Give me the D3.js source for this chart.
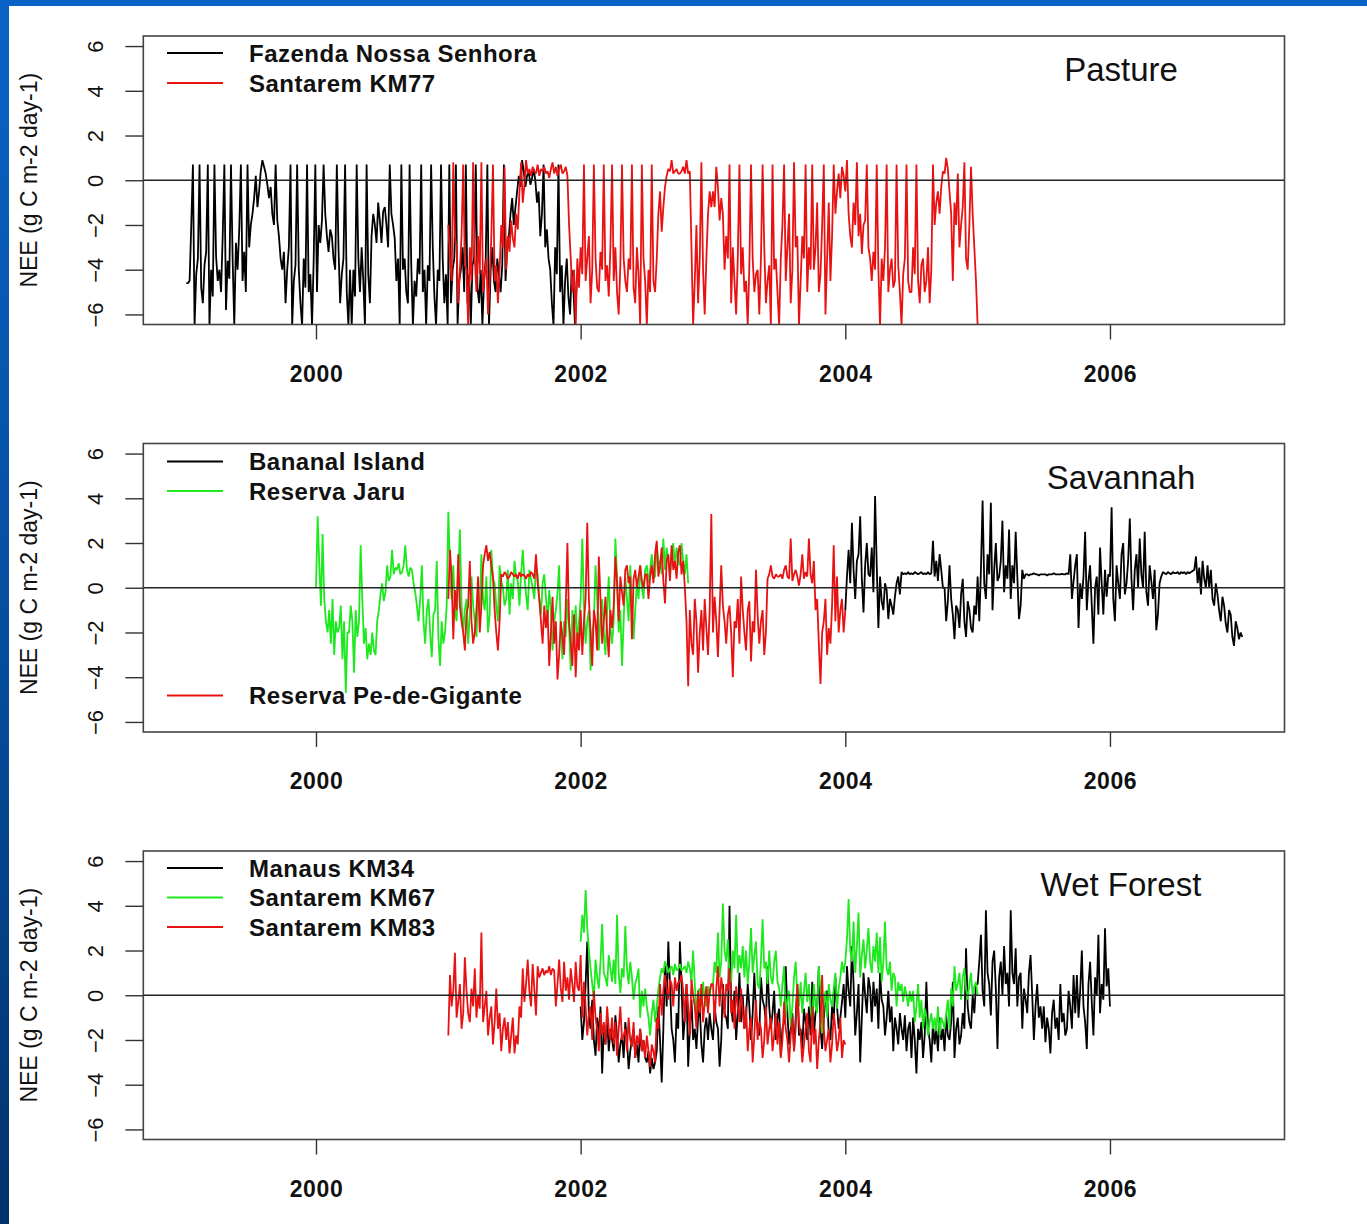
<!DOCTYPE html>
<html>
<head>
<meta charset="utf-8">
<script src="https://cdn.jsdelivr.net/npm/d3@7"></script>
<style>
  body { margin: 0; background: #fff; }
  svg { display: block; }
  text { font-family: "Liberation Sans", Arial, sans-serif; fill: #111; }
</style>
</head>
<body>
<div id="chart"></div>
<script>
// daily NEE, one value every 1/80 year from each start date
var stepYears = 0.0125;
var yearTicks = [2000, 2002, 2004, 2006];
var neeTicks = [-6, -4, -2, 0, 2, 4, 6];

// Pasture
var fazendaStart = 1999.02;
var fazendaNEE = [
  -4.6,-4.6,-4.5,-2.0,0.7,-6.5,-4.2,-3.5,0.7,-4.8,-5.5,-3.8,-3.2,0.7,-6.5,-4.0,-5.2,0.7,-3.4,-4.5,
  -4.0,-5.0,-2.5,0.7,-5.8,-3.6,-4.4,0.7,-3.5,-6.5,-2.8,-4.0,-2.2,0.7,-4.5,-3.2,-5.0,0.7,-3.0,-2.0,
  -1.5,-0.8,0.2,-1.2,-0.5,0.4,0.9,0.6,0.3,-0.2,-0.8,-0.3,-1.5,-2.0,0.7,-1.8,-2.5,-3.5,-4.0,-3.2,
  -5.5,-4.0,-3.0,0.7,-6.5,-4.5,-3.8,0.7,-4.0,-5.5,-6.5,-3.5,-4.8,0.7,-5.0,-4.2,-6.5,-3.6,0.7,-5.0,
  -2.0,-2.8,-1.8,0.7,-1.5,-2.5,-3.2,-2.2,-2.5,-3.5,-4.0,0.7,-3.0,-5.5,-4.2,-3.5,0.7,-5.0,-6.5,-4.0,
  -6.5,-4.0,-5.2,0.7,-3.5,-5.0,-3.0,-4.5,-6.5,0.7,-4.2,-5.5,-2.5,-1.5,-2.0,-2.8,-1.0,-1.8,-2.8,-1.4,
  -1.2,-2.0,-3.0,0.7,-1.5,-2.0,-2.6,-4.5,-3.5,-6.5,0.7,-4.0,-3.5,-5.0,-5.5,0.7,-3.8,-6.5,-4.5,-5.2,
  -3.5,-4.2,0.7,-5.0,-4.0,-6.5,-3.8,-4.5,0.7,-3.0,-5.2,-6.5,-4.0,-4.5,0.7,-3.5,-5.5,-4.2,-6.5,0.7,
  -5.5,-4.0,-3.5,0.7,-6.5,-4.5,-4.0,-3.0,-5.0,0.7,-5.5,-4.2,-6.5,-3.8,-3.5,0.7,-4.8,-5.5,-4.0,-6.5,
  -4.5,-3.5,0.7,-6.5,-4.0,-3.0,-4.5,-5.0,-3.5,-4.2,-5.0,-3.8,0.7,-4.5,-3.0,-2.5,-1.5,-0.8,-2.0,-1.2,
  -0.5,0.2,-0.3,0.9,0.4,-0.3,0.2,0.4,-0.2,0.1,0.5,0.0,-1.0,-0.5,-2.5,-1.5,0.7,-3.0,-2.2,-3.5,
  -4.0,-5.5,-6.5,-3.0,-4.2,0.7,-5.0,-3.8,-6.5,-4.5,-3.5,-5.2,-6.0,-4.0,-4.8,-6.5,-4.5
];
var km77Start = 2001.0;
var km77NEE = [
  -2.0,-3.5,-4.5,0.8,-2.5,-3.0,-5.5,-4.0,-2.5,0.7,-3.8,-4.0,-6.5,-3.0,-4.5,0.8,-3.5,-5.0,-2.5,-4.2,
  0.8,-5.0,-4.2,-3.5,-6.0,-4.5,-2.5,0.7,-4.5,-3.8,-5.5,-4.0,-2.0,-3.0,0.6,-4.0,-2.5,-3.2,-1.8,-2.6,
  -3.0,-1.5,-2.2,-0.5,0.8,-1.0,-0.2,0.9,0.3,0.5,0.2,0.6,0.4,0.3,0.7,0.2,0.5,0.4,0.6,0.3,
  0.4,0.1,0.5,0.8,0.3,0.6,0.2,0.5,0.7,0.3,0.4,0.6,0.2,-2.0,-3.5,-5.0,-4.0,-6.5,-3.5,-4.8,
  -3.0,-4.2,0.7,-4.5,-3.5,-2.5,-5.5,-4.0,0.7,-3.5,-4.8,-5.0,-3.2,-4.0,0.7,-4.5,-3.8,-5.2,-3.0,0.7,
  -4.5,-3.0,-5.0,-6.0,-3.8,0.7,-3.5,-4.5,-5.0,-3.5,-4.0,0.7,-4.8,-5.5,-3.0,-4.2,-6.5,0.7,-3.5,-4.5,
  -6.5,-4.0,-5.0,0.7,-4.5,-5.0,-3.5,-1.5,-0.5,-2.3,-1.2,-0.3,0.2,0.5,0.4,0.9,0.3,0.4,0.5,0.3,
  0.3,0.4,0.6,0.3,0.9,0.3,0.4,-3.0,-6.5,-4.5,-2.0,-5.5,-3.5,0.8,-4.0,-6.0,-3.5,-1.5,-0.5,-1.2,
  -0.5,-1.2,0.6,-0.3,-1.8,-0.8,-1.5,-4.0,-2.5,-3.5,0.7,-5.5,-3.0,-4.5,-6.0,-3.5,0.7,-4.2,-3.0,-5.0,
  -4.5,-6.5,-3.8,0.7,-3.5,-5.0,-4.2,-4.0,-6.0,-3.5,0.7,-3.0,-5.5,-4.5,-3.8,-6.5,0.7,-4.0,-3.5,-5.0,
  -6.5,-3.5,-2.0,0.7,-4.5,-3.0,-1.5,-5.5,-4.0,0.8,-3.0,-2.5,-6.5,-4.5,-2.5,-3.5,0.7,-5.0,-3.0,-4.0,
  0.7,-4.0,-3.0,-1.0,-5.0,-4.2,-2.0,0.7,-6.0,-3.5,-1.0,-4.5,-2.5,0.7,-1.5,-0.5,0.3,-0.8,0.6,0.2,
  -0.5,0.9,-1.5,-2.5,-3.0,-1.0,-2.0,0.8,-2.5,-1.5,-3.3,-2.0,-1.8,0.7,-3.0,-3.5,-4.5,-3.2,-4.0,0.7,
  -4.0,-6.5,-3.5,-4.5,-3.0,0.7,-5.0,-4.0,-3.5,-4.8,-4.5,0.7,-3.8,-5.0,-6.5,-4.2,-3.5,0.7,-4.5,-5.0,
  -5.0,-3.0,-4.2,0.7,-4.5,-5.5,-3.8,-3.5,-5.0,-4.5,-3.0,-5.5,-4.0,0.7,-2.0,-1.0,-0.5,-1.5,-0.3,0.4,
  0.3,1.0,0.5,-0.5,-1.5,-4.5,-1.0,-2.0,0.3,-3.0,-2.0,-1.2,0.8,-3.5,-4.0,-2.0,0.6,-1.5,-3.0,-4.5,
  -6.5
];

// Savannah
var bananalStart = 2004.0;
var bananalNEE = [
  -1.0,0.5,1.7,0.2,2.9,0.8,-0.5,1.2,1.5,3.2,0.4,-1.1,1.0,2.0,0.6,0.5,1.8,-0.2,4.1,1.0,
  -1.8,0.5,-0.6,-1.0,0.2,-0.1,-1.4,-0.5,-0.8,-1.2,-0.4,0.2,0.5,-0.3,0.7,0.6,0.65,0.6,0.7,0.6,
  0.65,0.6,0.7,0.65,0.6,0.65,0.7,0.6,0.65,0.6,0.7,0.6,0.65,2.1,0.5,1.2,0.3,1.5,0.8,0.0,
  0.0,-1.5,-0.6,1.0,-0.5,-1.2,-2.3,-0.8,-1.0,-1.8,-0.3,0.4,-1.5,-2.2,-0.6,-1.0,-1.8,-2.0,-0.8,-1.2,
  0.5,-1.5,0.8,3.9,0.2,-0.5,1.5,0.6,3.8,-1.0,0.8,2.0,0.3,0.5,1.2,3.0,-0.2,1.0,0.4,2.6,
  -0.5,1.0,0.2,2.5,0.5,-1.4,-0.8,0.8,0.4,0.6,0.6,0.55,0.6,0.6,0.65,0.6,0.6,0.55,0.6,0.6,
  0.6,0.6,0.55,0.6,0.6,0.6,0.65,0.6,0.6,0.6,0.6,0.62,0.6,0.6,0.65,0.6,1.5,-0.5,0.3,1.0,
  1.5,-1.8,0.2,-0.5,0.5,2.5,-1.0,0.3,1.0,-0.8,-2.5,0.0,0.5,-1.2,1.8,0.2,-1.2,0.8,-0.4,0.6,
  0.5,3.6,-0.5,-1.5,1.0,0.2,-0.5,1.5,2.0,-0.3,0.2,1.2,3.1,0.4,-1.0,0.8,1.5,0.0,2.2,0.6,
  0.0,2.5,-0.2,-0.8,1.0,0.3,-0.5,0.8,-1.9,-1.2,0.2,0.5,0.7,0.65,0.6,0.7,0.65,0.6,0.7,0.65,
  0.65,0.7,0.6,0.7,0.65,0.7,0.6,0.7,0.65,0.7,0.75,0.8,1.4,0.2,0.9,-0.3,1.2,0.4,0.0,1.0,
  0.0,0.8,-0.5,-0.8,0.2,-0.3,-1.0,-1.5,-0.4,-0.8,-1.6,-2.0,-1.0,-1.2,-2.2,-2.6,-1.5,-1.8,-2.3,-2.0,
  -2.2
];
var jaruStart = 2000.0;
var jaruNEE = [
  0.0,3.2,1.0,-0.8,2.4,-0.5,-1.5,-2.0,-1.0,-2.5,-0.5,-3.0,-1.5,-2.0,-1.8,-0.8,-3.2,-1.5,-4.7,-2.0,
  -2.0,-0.8,-1.5,-3.8,-1.0,-2.2,-1.5,1.9,-0.5,-2.5,-1.8,-3.2,-2.5,-3.0,-2.0,-2.8,-3.0,-1.5,-1.0,-0.3,
  0.2,-0.6,-0.2,1.0,0.3,0.5,1.7,0.6,0.9,0.8,1.1,0.6,0.7,1.0,1.9,0.8,0.5,0.9,0.8,0.2,
  -0.2,-0.8,-1.5,-0.5,1.0,-1.5,-2.5,-1.0,-0.5,-2.0,-3.1,-1.2,-1.0,1.2,-2.2,-3.5,-1.5,-2.5,-2.0,-0.8,
  3.4,1.0,-0.5,1.0,-1.0,-1.5,0.5,2.6,-0.8,-2.0,-1.0,-0.5,-2.5,-1.2,0.5,-0.8,-1.5,-2.2,-0.5,-1.0,
  1.5,-0.5,-1.0,0.5,-2.0,-1.2,1.7,0.4,0.2,-0.8,-1.5,1.0,0.3,0.0,-0.8,-0.5,0.8,-1.2,0.2,-0.5,
  1.2,0.5,0.3,-0.8,0.6,1.7,0.5,-0.3,-1.0,0.8,0.4,0.0,-0.5,1.0,0.6,-0.5,-1.2,0.2,0.6,-0.4,
  -1.5,-0.1,-1.0,-2.8,-1.5,-1.0,-0.2,1.0,-2.0,-3.2,-1.5,-2.2,-0.5,-1.8,-3.7,-1.0,-2.0,-0.8,-2.5,-1.5,
  -0.5,2.2,-0.8,-2.5,-1.5,-1.0,-3.7,-2.0,-1.5,1.0,-0.5,-2.8,-1.2,-0.5,-2.0,-3.0,-1.0,0.5,-1.8,-2.5,
  -1.5,2.2,0.5,-2.0,-1.0,-3.5,-1.5,0.5,-0.5,-1.5,1.0,-0.8,-2.3,-1.0,0.2,-0.5,1.0,0.0,-0.5,0.8,
  1.0,0.2,0.8,1.5,0.4,0.5,2.0,1.0,1.2,0.6,2.2,0.8,1.8,1.2,0.5,1.5,2.0,0.9,1.8,1.2,
  1.0,2.0,1.2,0.6,1.5,0.2
];
var giganteStart = 2001.0;
var giganteNEE = [
  -0.5,1.7,0.5,-2.3,-0.1,-1.0,1.5,-0.8,-1.5,-2.0,-2.8,-1.2,-0.8,1.2,-1.5,-2.5,-2.0,-1.0,0.5,-2.0,
  -0.8,1.0,1.5,1.9,1.2,1.6,1.0,0.5,-1.0,-2.0,-2.8,-1.5,0.6,0.5,0.7,0.6,0.4,0.5,0.7,0.6,
  0.5,0.6,0.4,0.7,0.5,0.6,0.55,0.4,0.6,0.5,0.7,0.6,0.4,1.5,0.2,-0.5,-1.5,-2.5,-0.8,-1.8,
  -1.0,-3.5,-2.0,-0.4,-2.5,-1.5,-4.1,-3.0,-1.5,-2.2,-3.0,-0.8,2.0,-1.5,-2.5,-3.5,-1.2,-4.0,-2.0,-2.8,
  -1.0,-3.0,-1.5,-0.5,2.9,-0.5,-2.0,-3.5,-1.0,-1.5,-2.8,1.4,-0.5,-2.5,-1.5,-0.4,-2.0,-3.1,-1.0,-1.8,
  -0.8,1.4,0.2,-1.5,0.5,-0.2,-0.8,0.8,1.0,0.2,0.5,-2.3,0.4,0.8,0.0,0.5,1.0,0.3,0.0,0.6,
  0.6,-0.5,0.5,1.0,0.2,1.5,2.1,0.5,1.0,1.8,0.3,-0.7,1.2,1.5,0.3,1.9,0.8,1.2,0.4,1.6,
  1.9,0.6,1.2,0.0,-1.5,-4.4,-1.0,-2.5,-3.0,-0.5,-1.5,-3.8,-2.0,-1.0,-2.8,-0.5,-1.8,-3.0,-1.0,3.3,
  -2.0,-0.4,-1.5,-3.1,-1.0,1.0,-0.8,-1.5,-2.5,-1.2,-0.8,-2.0,-4.0,-1.5,-1.8,-0.5,-2.5,0.5,-1.0,-2.0,
  -2.8,-1.0,-0.6,-3.3,-1.5,-2.0,0.8,-1.2,-2.5,-1.5,-1.0,-3.0,-2.0,0.4,0.6,1.0,0.5,0.4,0.6,0.5,
  0.5,0.6,0.4,0.8,1.0,0.5,0.4,2.2,0.3,0.6,0.8,0.5,0.1,0.6,1.5,0.4,0.7,0.5,2.2,0.6,
  0.2,1.2,-1.0,-0.5,-2.5,-4.3,-2.0,-1.5,-0.5,-3.0,-1.8,-2.5,-0.8,1.9,-1.5,0.5,-2.0,-1.0,-0.5,-2.0,
  -1.0
];

// Wet Forest
var manausStart = 2002.0;
var manausNEE = [
  -0.5,-2.0,-1.2,0.5,2.4,-1.0,-1.5,-0.2,-2.0,-2.7,-1.0,-1.8,-0.5,-3.5,-1.5,-2.2,-1.0,-2.5,-1.5,-2.0,
  -2.5,-0.9,-1.8,-3.0,-2.2,-1.8,-2.8,-1.2,-2.0,-3.3,-2.5,-2.0,-1.5,-2.8,-2.2,-3.0,-1.5,-2.5,-2.0,-2.8,
  -3.0,-2.5,-3.5,-2.8,-3.3,-3.0,-2.5,-0.5,-2.0,-3.9,-1.5,1.5,-0.5,2.4,0.5,-1.5,-2.0,-3.0,-0.8,-1.5,
  2.4,0.5,-2.0,-1.0,0.5,-3.2,-1.5,-0.2,-2.0,-1.5,-2.4,-1.0,-0.5,-2.2,-3.0,-1.5,-1.0,-2.0,-0.8,-1.5,
  -2.0,-0.5,-1.2,-1.5,-3.2,-2.0,0.5,-0.8,-1.0,-1.5,4.0,-0.5,-1.2,0.2,-2.0,-0.8,1.0,-1.2,0.0,-1.5,
  -1.0,0.5,-0.5,-2.0,-0.8,1.0,-0.8,-1.5,-1.8,0.8,-0.2,-0.5,-1.2,1.3,-0.5,-1.5,-0.8,0.2,-2.0,-1.0,
  -0.6,-2.7,-1.5,-1.2,1.3,-0.8,-2.2,-1.5,-0.8,-2.5,-1.0,0.5,-1.8,-1.5,-2.4,-0.6,-1.2,-2.0,-0.5,-1.8,
  0.6,-1.8,-0.8,-0.5,1.3,-1.5,-2.4,-1.0,-0.2,0.2,-1.8,-2.0,-0.5,-1.2,0.8,-0.5,-1.5,-1.0,-0.3,0.5,
  -1.0,1.3,0.2,-0.5,2.2,0.5,-1.8,-0.8,0.5,-3.0,-1.0,1.0,0.0,-0.8,0.8,0.3,-1.2,0.6,-0.5,0.3,
  -1.5,1.0,-0.2,-0.5,-1.8,-1.0,0.2,-1.2,-0.5,-2.5,-1.0,-1.5,-2.2,-0.8,-1.5,-2.0,-0.9,-2.5,-1.5,-1.2,
  -2.8,-1.0,-2.0,-3.5,-1.5,-2.0,-1.2,-2.8,-1.8,0.6,-1.5,-2.0,-3.0,-1.2,-2.2,-1.5,-2.5,-1.0,-2.0,-1.5,
  -2.5,-0.9,-1.8,-2.0,-1.2,0.6,-2.8,-1.5,-1.0,-2.2,-1.8,-0.8,-1.5,2.1,-0.5,-1.2,-1.5,0.0,-0.8,0.5,
  0.5,1.5,2.7,0.2,-0.5,3.8,1.0,0.5,-0.9,1.5,2.0,0.3,-2.4,0.8,1.5,0.0,2.2,0.5,1.0,-0.5,
  3.8,1.0,0.5,2.1,-0.5,0.8,1.0,-1.5,0.3,-0.2,-0.8,1.0,1.8,0.0,-2.0,-0.5,0.5,-1.0,-0.5,-1.5,
  -0.5,-2.1,-1.0,-1.5,-2.6,-0.8,-0.2,-1.5,-1.0,-2.0,0.5,-1.2,-0.8,-1.8,-1.5,0.2,-0.5,-1.5,0.9,-0.8,
  0.9,-1.0,0.2,2.0,-0.5,-1.2,-2.4,0.5,1.5,-0.3,-1.8,0.8,0.0,2.7,-0.8,0.5,-0.2,3.0,0.4,1.2,
  -0.5
];
var km67Start = 2002.0;
var km67NEE = [
  2.4,3.6,2.8,4.7,3.0,2.0,1.2,0.5,-0.2,1.6,0.8,0.3,1.5,3.2,1.0,0.8,0.4,1.8,1.2,0.6,
  1.6,0.5,3.6,1.0,0.1,1.2,0.8,3.1,1.2,0.5,1.5,0.8,-0.2,0.5,0.8,1.2,-1.0,0.2,-0.5,0.3,
  -0.5,-1.0,-1.8,-0.8,-0.2,-1.2,-0.5,0.3,0.8,1.2,1.0,1.5,1.3,1.0,1.2,1.3,0.9,1.4,1.1,1.2,
  1.4,1.1,1.2,1.3,1.0,1.5,1.2,0.6,2.0,0.5,-0.9,0.2,0.3,-0.5,0.6,-0.2,-0.5,0.4,0.0,0.5,
  0.5,1.5,1.0,2.8,0.8,1.5,4.1,2.0,1.5,2.5,0.8,0.6,2.0,1.2,3.6,1.0,1.8,1.2,2.2,0.8,
  2.0,0.5,1.5,3.0,1.0,1.8,2.4,0.5,0.3,1.5,3.4,1.2,1.5,0.5,2.0,0.8,0.5,1.5,2.0,0.6,
  0.3,-0.5,0.5,1.3,-1.0,-0.2,0.2,-1.4,-0.5,0.8,1.5,0.0,-0.5,0.6,-0.8,0.2,1.0,-0.3,0.5,-0.6,
  -1.2,0.5,-0.5,-0.8,1.3,0.2,-1.7,-0.5,0.2,-1.0,0.5,-0.2,-0.5,0.3,1.0,-0.6,0.3,0.8,1.5,1.0,
  1.5,2.5,4.3,2.0,1.5,3.3,1.0,2.2,3.7,0.8,1.8,2.5,1.2,2.0,3.0,1.5,1.0,2.2,1.5,2.8,
  1.0,2.6,0.6,1.5,3.3,1.2,0.9,1.5,0.2,1.0,0.8,-0.5,0.6,0.2,0.5,-0.3,0.4,0.0,-0.5,0.2,
  -0.3,0.2,-1.2,-0.5,0.5,-1.0,-0.2,-1.5,-0.6,-1.0,-1.8,-1.2,-0.8,-1.5,-1.0,-1.6,-0.5,-1.8,-1.0,-1.2,
  -1.5,-0.8,-0.2,-1.5,0.3,-0.5,1.3,0.2,0.5,1.0,-0.2,0.8,1.2,0.3,-0.2,0.5,1.0,0.0,0.4,0.6,
  0.0
];
var km83Start = 2001.0;
var km83NEE = [
  -1.8,0.9,-0.5,0.2,1.9,-1.0,-0.3,0.5,-1.5,-0.8,1.7,0.2,-0.8,-1.2,0.3,-0.5,1.2,-1.0,0.0,-0.6,
  2.8,-1.2,-0.5,0.2,-1.8,-1.0,-0.5,-2.2,-1.2,0.3,-1.5,-0.8,-2.5,-1.5,-1.0,-2.0,-1.2,-2.6,-1.8,-1.0,
  -2.6,-1.8,-2.2,-0.5,-1.0,1.2,-0.3,0.5,1.6,0.2,-0.5,1.4,0.3,-0.9,1.3,0.8,1.0,1.2,0.9,1.1,
  1.0,1.3,0.9,1.2,1.1,-0.5,0.5,1.6,0.3,-0.3,1.5,0.2,0.8,-0.2,1.2,0.5,-0.3,1.5,0.4,0.2,
  1.8,-1.0,0.6,-0.5,-1.8,-0.8,-0.5,-2.0,0.2,-1.0,-1.5,-2.5,-0.8,-1.8,-1.2,-2.2,-0.5,-1.5,-2.0,-1.0,
  -2.2,-1.2,-2.7,-1.5,-0.5,-2.0,-1.8,-1.5,-2.5,-1.0,-2.0,-2.3,-1.2,-2.8,-1.8,-2.2,-1.5,-2.5,-2.0,-2.8,
  -1.8,-2.5,-3.2,-2.2,-2.5,-3.0,-1.0,-1.5,0.5,-0.9,0.2,0.9,0.3,-0.2,0.7,0.5,-0.5,0.8,0.2,0.6,
  0.6,0.9,0.2,-1.2,0.5,-0.5,-1.8,0.7,0.0,-0.5,-1.5,0.2,-0.8,0.5,-1.2,-0.3,0.4,-0.8,0.2,0.5,
  0.5,-1.2,0.3,1.3,-0.5,0.8,0.2,-1.0,0.5,0.2,1.2,-0.8,-0.2,-1.5,0.4,-0.5,-1.2,0.3,-0.8,-1.5,
  -0.5,-2.5,-1.5,-1.0,-3.0,-1.8,-0.2,-2.0,-1.2,-1.5,-2.8,-2.0,-0.5,-2.2,-1.5,-1.0,-2.5,-1.8,-0.8,-2.2,
  -1.2,-2.8,-2.0,-0.3,-1.5,-2.0,-3.0,-1.8,-1.0,-2.5,-1.5,0.5,-1.2,-1.8,-3.0,-2.2,-1.5,-0.8,-2.5,-3.0,
  -0.5,-2.2,-1.5,-3.3,-2.0,-1.2,0.9,-1.5,-2.5,-2.0,-1.5,-3.0,-2.2,-0.8,-1.5,-2.5,-2.0,-1.0,-2.8,-2.0,
  -2.2
];

var black = "#000000", red = "#e81212", green = "#1ee81e";

// panels, series in drawing order
var panels = [
  { title: "Pasture", top: 36,
    series: [
      { name: "Fazenda Nossa Senhora", color: black, start: fazendaStart, values: fazendaNEE },
      { name: "Santarem KM77", color: red, start: km77Start, values: km77NEE }
    ],
    legendRows: [17, 47] },
  { title: "Savannah", top: 443.5,
    series: [
      { name: "Bananal Island", color: black, start: bananalStart, values: bananalNEE },
      { name: "Reserva Jaru", color: green, start: jaruStart, values: jaruNEE },
      { name: "Reserva Pe-de-Gigante", color: red, start: giganteStart, values: giganteNEE }
    ],
    legendRows: [18, 47.5, 252] },
  { title: "Wet Forest", top: 851,
    series: [
      { name: "Manaus KM34", color: black, start: manausStart, values: manausNEE },
      { name: "Santarem KM67", color: green, start: km67Start, values: km67NEE },
      { name: "Santarem KM83", color: red, start: km83Start, values: km83NEE }
    ],
    legendRows: [17, 46.5, 76] }
];

var W = 1367, H = 1224;
var boxLeft = 143.3, boxRight = 1284.5, boxH = 288.5;

var svg = d3.select("#chart")
  .append("svg")
    .attr("width", W)
    .attr("height", H);

// slide frame: blue strip on top and left
var grad = svg.append("defs").append("linearGradient")
  .attr("id", "slideBlue")
  .attr("x1", 0).attr("y1", 0).attr("x2", 0).attr("y2", 1);
grad.append("stop").attr("offset", "0%").attr("stop-color", "#0a62c6");
grad.append("stop").attr("offset", "55%").attr("stop-color", "#054c9c");
grad.append("stop").attr("offset", "100%").attr("stop-color", "#02326c");

svg.append("rect").attr("x", 0).attr("y", 0).attr("width", W).attr("height", 6).attr("fill", "#0a62c6");
svg.append("rect").attr("x", 0).attr("y", 0).attr("width", 9).attr("height", H).attr("fill", "url(#slideBlue)");

var x = d3.scaleLinear()
  .domain([1998.695, 2007.319])
  .range([boxLeft, boxRight]);

panels.forEach(function(p, pi) {
  var y = d3.scaleLinear()
    .domain([-6.45, 6.45])
    .range([p.top + boxH, p.top]);

  var g = svg.append("g");

  g.append("clipPath")
    .attr("id", "clip" + pi)
  .append("rect")
    .attr("x", boxLeft)
    .attr("y", p.top)
    .attr("width", boxRight - boxLeft)
    .attr("height", boxH);

  var line = d3.line()
    .x(function(d) { return x(d.t); })
    .y(function(d) { return y(d.v); });

  var plot = g.append("g").attr("clip-path", "url(#clip" + pi + ")");

  p.series.forEach(function(s) {
    var pts = s.values.map(function(v, i) { return { t: s.start + i * stepYears, v: v }; });
    plot.append("path")
      .datum(pts)
      .attr("d", line)
      .attr("fill", "none")
      .attr("stroke", s.color)
      .attr("stroke-width", 1.8)
      .attr("stroke-linejoin", "bevel");
  });

  // zero line
  plot.append("line")
    .attr("x1", boxLeft).attr("x2", boxRight)
    .attr("y1", y(0)).attr("y2", y(0))
    .attr("stroke", "#222")
    .attr("stroke-width", 1.3);

  // box
  g.append("rect")
    .attr("x", boxLeft)
    .attr("y", p.top)
    .attr("width", boxRight - boxLeft)
    .attr("height", boxH)
    .attr("fill", "none")
    .attr("stroke", "#444")
    .attr("stroke-width", 1.6);

  // y axis (R style, labels parallel to axis)
  var yAxis = g.append("g")
    .attr("transform", "translate(" + boxLeft + ",0)")
    .call(d3.axisLeft(y).tickValues(neeTicks).tickSize(18).tickPadding(0).tickFormat(d3.format("d")));
  yAxis.select(".domain").remove();
  yAxis.selectAll(".tick line").attr("stroke", "#333").attr("stroke-width", 1.4);
  yAxis.selectAll(".tick text")
    .attr("x", null).attr("dy", null)
    .attr("text-anchor", "middle")
    .attr("dominant-baseline", "central")
    .attr("transform", "translate(-48,0) rotate(-90)")
    .style("font-size", "22px")
    .style("font-family", "Liberation Sans, Arial, sans-serif")
    .attr("fill", "#111");

  // x axis
  var xAxis = g.append("g")
    .attr("transform", "translate(0," + (p.top + boxH) + ")")
    .call(d3.axisBottom(x).tickValues(yearTicks).tickSize(15).tickPadding(0).tickFormat(d3.format("d")));
  xAxis.select(".domain").remove();
  xAxis.selectAll(".tick line").attr("stroke", "#333").attr("stroke-width", 1.4);
  xAxis.selectAll(".tick text")
    .attr("y", 49).attr("dy", null)
    .attr("dominant-baseline", "central")
    .style("font-size", "23px")
    .style("font-weight", "bold")
    .style("letter-spacing", "0.6px")
    .style("font-family", "Liberation Sans, Arial, sans-serif")
    .attr("fill", "#111");

  // axis label
  g.append("text")
    .attr("transform", "translate(29," + (p.top + boxH / 2) + ") rotate(-90)")
    .attr("text-anchor", "middle")
    .attr("dominant-baseline", "central")
    .style("font-size", "23px")
    .text("NEE (g C m-2 day-1)");

  // title
  g.append("text")
    .attr("x", 1121)
    .attr("y", p.top + 45)
    .attr("text-anchor", "middle")
    .style("font-size", "33px")
    .text(p.title);

  // legend
  p.series.forEach(function(s, k) {
    var ly = p.top + p.legendRows[k];
    g.append("line")
      .attr("x1", 167).attr("x2", 223)
      .attr("y1", ly).attr("y2", ly)
      .attr("stroke", s.color)
      .attr("stroke-width", 2);
    g.append("text")
      .attr("x", 249)
      .attr("y", ly)
      .attr("dominant-baseline", "central")
      .style("font-size", "24px")
      .style("font-weight", "bold")
      .style("letter-spacing", "0.5px")
      .text(s.name);
  });
});
</script>
</body>
</html>
